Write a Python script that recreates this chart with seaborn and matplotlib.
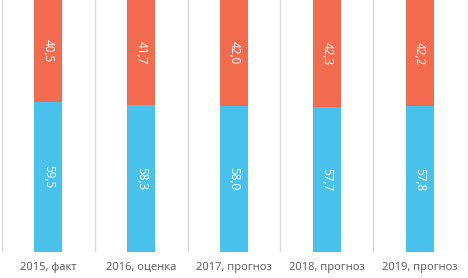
import pandas as pd
import numpy as np
import matplotlib.pyplot as plt
import seaborn as sns

# Data
categories = ['2015, факт', '2016, оценка', '2017, прогноз', '2018, прогноз', '2019, прогноз']
blue_vals = [59.5, 58.3, 58.0, 57.7, 57.8]
orange_vals = [40.5, 41.7, 42.0, 42.3, 42.2]

df = pd.DataFrame({'cat': categories, 'blue': blue_vals, 'orange': orange_vals})
df['total'] = df['blue'] + df['orange']

sns.set_style('white')
plt.rcParams['font.family'] = ['Open Sans', 'DejaVu Sans']

fig = plt.figure(figsize=(4.68, 2.78), dpi=100)
ax = fig.add_axes([2 / 468, 26 / 278, 464 / 468, 252 / 278])

# Stacked: total bar in orange, blue part drawn over it
sns.barplot(data=df, x='cat', y='total', color='#F26B4F', width=0.3, saturation=1,
            linewidth=0, ax=ax)
sns.barplot(data=df, x='cat', y='blue', color='#48C2EC', width=0.3, saturation=1,
            linewidth=0, ax=ax)

# Value labels
for i, (b, o) in enumerate(zip(blue_vals, orange_vals)):
    ax.text(i, b / 2, f"{b:.1f}".replace('.', ','), rotation=270, ha='center', va='center',
            color='white', fontsize=8.5)
    ax.text(i, b + o / 2, f"{o:.1f}".replace('.', ','), rotation=270, ha='center', va='center',
            color='white', fontsize=8.5)

# Separator lines between categories
ax.set_xticks(np.arange(len(categories) + 1) - 0.5, minor=True)
ax.grid(True, which='minor', axis='x', color='#D9D9D9', linewidth=1)
ax.set_xlim(-0.5, len(categories) - 0.5)
ax.set_ylim(0, 100)

ax.set_xlabel('')
ax.set_ylabel('')
ax.set_yticks([])
ax.tick_params(axis='x', which='both', length=0, labelsize=8, labelcolor='#595959', pad=7)
for s in ax.spines.values():
    s.set_visible(False)

fig.savefig('out.png', dpi=100)
